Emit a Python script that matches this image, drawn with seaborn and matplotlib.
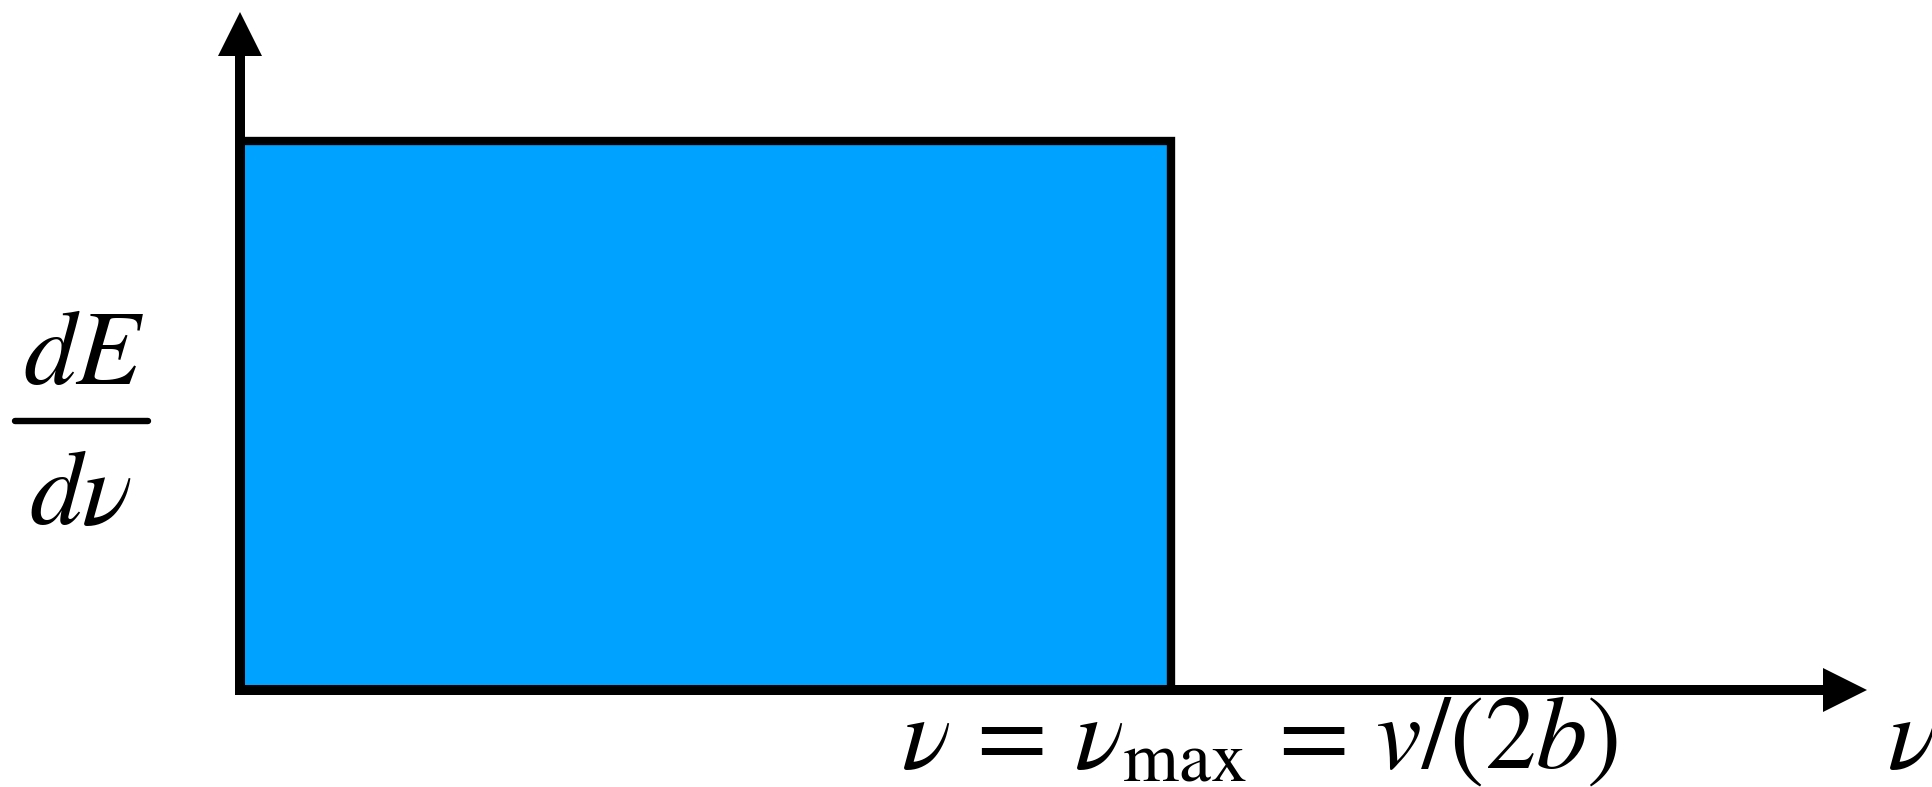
import matplotlib
matplotlib.use("Agg")
import matplotlib.pyplot as plt
from matplotlib.lines import Line2D
import seaborn as sns

# ---- data ----
nu_edges = [0.0, 1.0]          # frequency bin edges (nu from 0 to nu_max)
nu_centers = [0.5]
dEdnu = [1.0]                  # flat spectrum height
x_label = r"$\nu$"
y_label_num = r"$dE$"
y_label_den = r"$d\nu$"
cut_label = r"$\nu\,=\,\nu_{\rm max}\,=\,v/(2b)$"

sns.set_style("white")
plt.rcParams["mathtext.fontset"] = "stix"
plt.rcParams["font.family"] = ["STIXGeneral", "DejaVu Sans"]
plt.rcParams["text.color"] = "black"

W, H, DPI = 1932, 787, 100
fig = plt.figure(figsize=(W / DPI, H / DPI), dpi=DPI)

# axes geometry (pixels)
x0, y0 = 239.5, 690.0
x_tip, y_tip = 1867.0, 12.0
px_per_x = 1171.0 - x0
px_per_y = y0 - 141.0
ax = fig.add_axes([x0 / W, (H - y0) / H, (x_tip - x0) / W, (y0 - y_tip) / H])
XMAX = (x_tip - x0) / px_per_x
YMAX = (y0 - y_tip) / px_per_y

sns.histplot(x=nu_centers, weights=dEdnu, bins=nu_edges, ax=ax,
             color="#00A2FF", alpha=1.0, edgecolor="black", linewidth=6.0,
             stat="count", zorder=2)
for p in ax.patches:
    p.set_joinstyle("miter")

ax.set_xlim(0, XMAX)
ax.set_ylim(0, YMAX)
ax.set_xticks([])
ax.set_yticks([])
ax.set_xlabel("")
ax.set_ylabel("")
ax.spines["top"].set_visible(False)
ax.spines["right"].set_visible(False)

arrow_px = 44.0
arrow_pt = arrow_px * 72 / DPI
x_arrow_c = XMAX - (arrow_px / 2) / px_per_x
y_arrow_c = YMAX - (arrow_px / 2) / px_per_y
for name in ("left", "bottom"):
    sp = ax.spines[name]
    sp.set_linewidth(7.2)
    sp.set_color("black")
    sp.set_capstyle("projecting")
    sp.set_zorder(3)
ax.spines["bottom"].set_bounds(0, x_arrow_c)
ax.spines["left"].set_bounds(0, y_arrow_c)

ax.plot([x_arrow_c], [0], marker=">", ms=arrow_pt, color="black", mew=0,
        clip_on=False, zorder=4)
ax.plot([0], [y_arrow_c], marker="^", ms=arrow_pt, color="black", mew=0,
        clip_on=False, zorder=4)

# y label as a stacked fraction
fs = 76
fig.text(84.0 / W, (H - 384) / H, y_label_num, fontsize=fs, ha="center", va="baseline")
fig.text(81.0 / W, (H - 524) / H, y_label_den, fontsize=fs, ha="center", va="baseline")
fig.add_artist(Line2D([15 / W, 148 / W], [(H - 421) / H] * 2, color="black",
                      lw=4.6, transform=fig.transFigure))

# cutoff label and x label
fs2 = 74
fig.text(901 / W, (H - 768) / H, cut_label, fontsize=fs2, ha="left", va="baseline")
fig.text(1887 / W, (H - 768) / H, x_label, fontsize=fs2, ha="left", va="baseline")

fig.savefig("out.png", dpi=DPI)
